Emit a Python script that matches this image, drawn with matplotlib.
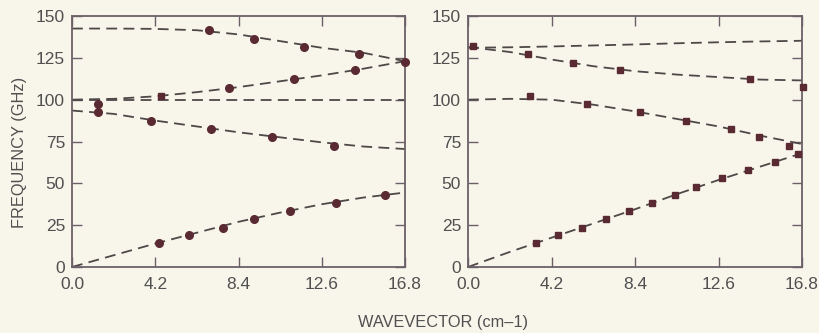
import matplotlib
matplotlib.use("Agg")
import matplotlib.pyplot as plt
import numpy as np

plt.rcParams['font.family'] = ['Liberation Sans', 'DejaVu Sans']

# ---------------- data ----------------
k_grid = [0.0, 2.1, 4.2, 6.3, 8.4, 10.5, 12.6, 14.7, 16.8]
xticks = [0.0, 4.2, 8.4, 12.6, 16.8]
xtick_labels = ["0.0", "4.2", "8.4", "12.6", "16.8"]
yticks = [0, 25, 50, 75, 100, 125, 150]

# left panel: dashed theory curves
left_line1 = [142.5, 142.5, 142.3, 141.5, 139.0, 135.0, 131.0, 128.0, 123.0]
left_line2 = [100.0, 100.5, 102.0, 104.5, 107.5, 111.0, 114.5, 118.5, 123.0]
left_line3 = [100.0, 100.0, 100.0, 100.0, 100.0, 100.0, 100.0, 100.0, 100.0]
left_line4 = [93.5, 91.5, 87.5, 84.0, 80.5, 77.5, 74.5, 72.0, 70.5]
left_line5 = [0.0, 7.0, 14.0, 20.5, 27.0, 32.5, 37.5, 41.5, 44.5]

# left panel: measured points (circles)
left_p1_k = [6.9, 9.2, 11.7, 14.5, 16.8]
left_p1_f = [141.5, 136.5, 131.5, 127.0, 122.5]
left_p2_k = [1.3, 7.9, 11.2, 14.3]
left_p2_f = [97.5, 107.0, 112.5, 117.5]
left_p2sq_k = [4.5]
left_p2sq_f = [102.0]
left_p3_k = [1.3, 4.0, 7.0, 10.1, 13.2]
left_p3_f = [92.5, 87.5, 82.5, 77.5, 72.5]
left_p4_k = [4.4, 5.9, 7.6, 9.2, 11.0, 13.3, 15.8]
left_p4_f = [14.5, 19.0, 23.5, 28.5, 33.5, 38.5, 43.0]

# right panel: dashed theory curves
right_line1 = [131.0, 131.3, 131.8, 132.4, 133.0, 133.7, 134.3, 134.8, 135.2]
right_line2 = [131.5, 128.5, 124.0, 120.0, 117.0, 115.0, 113.5, 112.0, 111.5]
right_line3 = [100.0, 100.5, 100.0, 97.0, 93.0, 88.5, 84.0, 78.5, 73.5]
right_line4 = [0.0, 9.0, 17.5, 26.0, 34.5, 43.5, 52.0, 60.0, 68.0]

# right panel: measured points (squares)
right_s1_k = [0.25, 3.0, 5.3, 7.65, 14.2, 16.85]
right_s1_f = [132.0, 127.0, 122.0, 117.5, 112.5, 107.5]
right_s2_k = [3.1, 6.0, 8.65, 10.95, 13.25, 14.65, 16.15]
right_s2_f = [102.0, 97.5, 92.5, 87.5, 82.5, 77.5, 72.5]
right_s3_k = [3.4, 4.55, 5.75, 6.95, 8.1, 9.25, 10.4, 11.45, 12.8, 14.1, 15.45, 16.6]
right_s3_f = [14.5, 19.0, 23.5, 28.5, 33.5, 38.5, 43.0, 48.0, 53.0, 58.0, 62.5, 67.5]

# ---------------- style ----------------
bg = "#f8f5ea"
line_col = "#4e4848"
mark_col = "#5a2a33"
spine_col = "#6c6068"
text_col = "#505050"
dash = (0, (6, 3.5))

fig = plt.figure(figsize=(8.19, 3.33), dpi=100, facecolor=bg)
W, H = 819, 333
axL = fig.add_axes([72 / W, 1 - 267 / H, 333 / W, 251 / H])
axR = fig.add_axes([468 / W, 1 - 267 / H, 334 / W, 251 / H])

for ax in (axL, axR):
    ax.set_facecolor(bg)
    ax.set_xlim(0, 16.8)
    ax.set_ylim(0, 150)
    ax.set_xticks(xticks)
    ax.set_xticklabels(xtick_labels)
    ax.set_yticks(yticks)
    ax.tick_params(direction='in', length=7, width=1.0, color=spine_col,
                   top=True, right=True, labelsize=12.5, labelcolor=text_col)
    ax.tick_params(axis='x', pad=7)
    ax.tick_params(axis='y', pad=5)
    for s in ax.spines.values():
        s.set_color(spine_col)
        s.set_linewidth(1.3)

for ln in (left_line1, left_line2, left_line3, left_line4, left_line5):
    axL.plot(k_grid, ln, linestyle=dash, color=line_col, lw=1.3, clip_on=False)
for kk, ff in ((left_p1_k, left_p1_f), (left_p2_k, left_p2_f),
               (left_p3_k, left_p3_f), (left_p4_k, left_p4_f)):
    axL.plot(kk, ff, 'o', color=mark_col, ms=5.5, clip_on=False, zorder=5)
axL.plot(left_p2sq_k, left_p2sq_f, 's', color=mark_col, ms=5, clip_on=False, zorder=5)

for ln in (right_line1, right_line2, right_line3, right_line4):
    axR.plot(k_grid, ln, linestyle=dash, color=line_col, lw=1.3, clip_on=False)
for kk, ff in ((right_s1_k, right_s1_f), (right_s2_k, right_s2_f), (right_s3_k, right_s3_f)):
    axR.plot(kk, ff, 's', color=mark_col, ms=5, clip_on=False, zorder=5)

fig.text(20 / W, 1 - 152 / H, "FREQUENCY (GHz)", rotation=90, ha='center', va='center',
         fontsize=11.8, color=text_col)
fig.text(443 / W, 1 - 322 / H, "WAVEVECTOR (cm\u20131)", ha='center', va='center',
         fontsize=11.8, color=text_col)

fig.savefig("out.png", dpi=100, facecolor=bg)
